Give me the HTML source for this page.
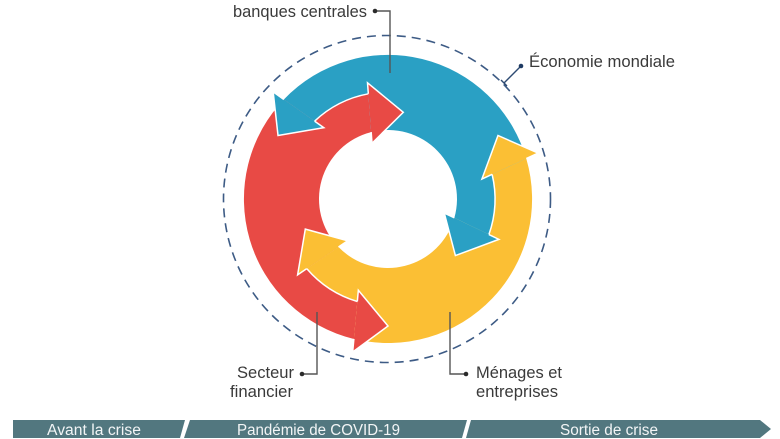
<!DOCTYPE html>
<html>
<head>
<meta charset="utf-8">
<style>
  html,body{margin:0;padding:0;background:#fff;}
  body{width:780px;height:439px;overflow:hidden;}
  svg{display:block;}
  text{font-family:"Liberation Sans", Arial, sans-serif;}
</style>
</head>
<body>
<svg width="780" height="439" viewBox="0 0 780 439" xmlns="http://www.w3.org/2000/svg">
  <!-- dashed outer circle -->
  <circle cx="387" cy="199" r="163.5" fill="none" stroke="#3d5b85" stroke-width="1.6" stroke-dasharray="9 6"/>

  <!-- shafts -->
  <g id="shafts">
    <path fill="#e84a45" d="M283.89 99.51 A144 144 0 0 0 353.87 338.97 L357.31 301.53 A107 107 0 0 1 306.75 268.64 L338.46 247.04 A69 69 0 0 1 371.17 132.09 L368.32 93.82 A107 107 0 0 0 314.58 121.17 Z"/>
    <path fill="#fbbf34" transform="rotate(-120 388 199)" d="M283.89 99.51 A144 144 0 0 0 353.87 338.97 L357.31 301.53 A107 107 0 0 1 306.75 268.64 L338.46 247.04 A69 69 0 0 1 371.17 132.09 L368.32 93.82 A107 107 0 0 0 314.58 121.17 Z"/>
    <path fill="#2aa0c4" transform="rotate(120 388 199)" d="M283.89 99.51 A144 144 0 0 0 353.87 338.97 L357.31 301.53 A107 107 0 0 1 306.75 268.64 L338.46 247.04 A69 69 0 0 1 371.17 132.09 L368.32 93.82 A107 107 0 0 0 314.58 121.17 Z"/>
  </g>

  <!-- white separator lines -->
  <g fill="none" stroke="#ffffff" stroke-width="1.5">
    <path d="M368.32 93.82 A107 107 0 0 0 314.58 121.17"/>
    <path transform="rotate(-120 388 199)" d="M368.32 93.82 A107 107 0 0 0 314.58 121.17"/>
    <path transform="rotate(120 388 199)" d="M368.32 93.82 A107 107 0 0 0 314.58 121.17"/>
  </g>

  <!-- heads: red -->
  <g>
    <path fill="#e84a45" d="M357.31 301.53 L358.34 290.30 L388 326 L352.68 351.98 L353.87 338.97 Z"/>
    <path fill="none" stroke="#fff" stroke-width="1.5" stroke-linejoin="miter" d="M357.31 301.53 L358.34 290.30 L388 326 L352.68 351.98 L353.87 338.97"/>
    <path fill="#e84a45" d="M371.17 132.09 L372.01 143.25 L403.28 112.34 L367.51 82.79 L368.32 93.82 Z"/>
    <path fill="none" stroke="#fff" stroke-width="1.5" d="M371.17 132.09 L372.01 143.25 L403.28 112.34 L367.51 82.79 L368.32 93.82"/>
  </g>
  <!-- heads: yellow -->
  <g transform="rotate(-120 388 199)">
    <path fill="#fbbf34" d="M357.31 301.53 L358.34 290.30 L388 326 L352.68 351.98 L353.87 338.97 Z"/>
    <path fill="none" stroke="#fff" stroke-width="1.5" d="M357.31 301.53 L358.34 290.30 L388 326 L352.68 351.98 L353.87 338.97"/>
    <path fill="#fbbf34" d="M371.17 132.09 L372.01 143.25 L403.28 112.34 L367.51 82.79 L368.32 93.82 Z"/>
    <path fill="none" stroke="#fff" stroke-width="1.5" d="M371.17 132.09 L372.01 143.25 L403.28 112.34 L367.51 82.79 L368.32 93.82"/>
  </g>
  <!-- heads: blue -->
  <g transform="rotate(120 388 199)">
    <path fill="#2aa0c4" d="M357.31 301.53 L358.34 290.30 L388 326 L352.68 351.98 L353.87 338.97 Z"/>
    <path fill="none" stroke="#fff" stroke-width="1.5" d="M357.31 301.53 L358.34 290.30 L388 326 L352.68 351.98 L353.87 338.97"/>
    <path fill="#2aa0c4" d="M371.17 132.09 L372.01 143.25 L403.28 112.34 L367.51 82.79 L368.32 93.82 Z"/>
    <path fill="none" stroke="#fff" stroke-width="1.5" d="M371.17 132.09 L372.01 143.25 L403.28 112.34 L367.51 82.79 L368.32 93.82"/>
  </g>

  <!-- connectors -->
  <g fill="none" stroke="#555" stroke-width="1.4">
    <path d="M375 11 H390 V73"/>
    <path d="M302 374 H317 V312"/>
    <path d="M466 374 H450 V312"/>
  </g>
  <g fill="#2b2b2b">
    <circle cx="375" cy="11" r="2.3"/>
    <circle cx="302" cy="374" r="2.3"/>
    <circle cx="466" cy="374" r="2.3"/>
  </g>
  <g stroke="#2d4b73" stroke-width="1.4" fill="none">
    <path d="M521 66 L504 83"/>
    <path d="M501 80 L507 86"/>
  </g>
  <circle cx="521" cy="66" r="2.3" fill="#1f3b63"/>

  <!-- labels -->
  <g fill="#3a3a3a" font-size="16.4">
    <text x="233" y="17" textLength="134" lengthAdjust="spacingAndGlyphs">banques centrales</text>
    <text x="529" y="67" textLength="146" lengthAdjust="spacingAndGlyphs">Économie mondiale</text>
    <text x="237" y="378" textLength="57" lengthAdjust="spacingAndGlyphs">Secteur</text>
    <text x="230" y="397" textLength="63" lengthAdjust="spacingAndGlyphs">financier</text>
    <text x="476" y="378" textLength="86" lengthAdjust="spacingAndGlyphs">Ménages et</text>
    <text x="476" y="397" textLength="82" lengthAdjust="spacingAndGlyphs">entreprises</text>
  </g>

  <!-- timeline bar -->
  <g fill="#52777f">
    <polygon points="13,420 185,420 180,438 13,438"/>
    <polygon points="190,420 467,420 462,438 184,438"/>
    <polygon points="471,420 760,420 771,429 760,438 466,438"/>
  </g>
  <g fill="#f2f5f6" font-size="15.5">
    <text x="47" y="435" textLength="94" lengthAdjust="spacingAndGlyphs">Avant la crise</text>
    <text x="237" y="435" textLength="163" lengthAdjust="spacingAndGlyphs">Pandémie de COVID-19</text>
    <text x="560" y="435" textLength="98" lengthAdjust="spacingAndGlyphs">Sortie de crise</text>
  </g>
</svg>
</body>
</html>
